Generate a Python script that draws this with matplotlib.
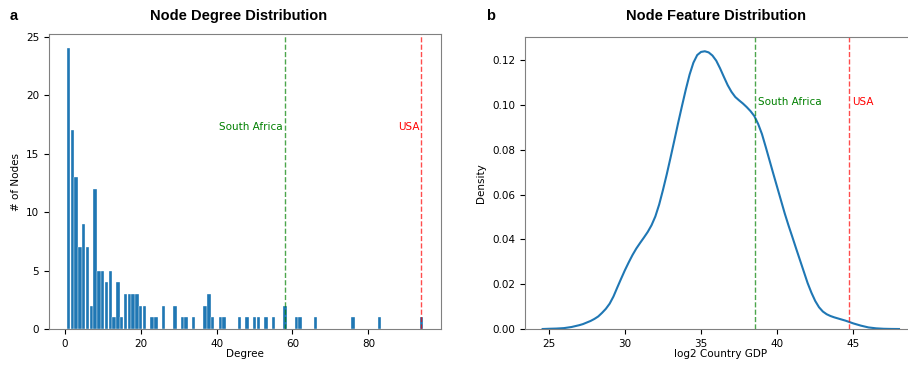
import numpy as np
import matplotlib
matplotlib.use("Agg")
import matplotlib.pyplot as plt

# degree histogram: degree value -> number of nodes
degrees = [1, 2, 3, 4, 5, 6, 7, 8, 9, 10, 11, 12, 13, 14, 15, 16, 17, 18, 19, 20,
           21, 23, 24, 26, 29, 31, 32, 34, 37, 38, 39, 41, 42, 46, 48, 50, 51, 53,
           55, 58, 61, 62, 66, 76, 83, 94]
node_counts = [24, 17, 13, 7, 9, 7, 2, 12, 5, 5, 4, 5, 1, 4, 1, 3, 3, 3, 3, 2,
               2, 1, 1, 2, 2, 1, 1, 1, 2, 3, 1, 1, 1, 1, 1, 1, 1, 1,
               1, 2, 1, 1, 1, 1, 1, 1]

# kde of log2 GDP (seaborn style curve)
gdp_x = [24.6, 25.0, 25.5, 26.0, 26.5, 27.0, 27.25, 27.5, 27.75,
         28.0, 28.25, 28.5, 28.75, 29.0, 29.25, 29.5, 29.75,
         30.0, 30.25, 30.5, 30.75, 31.0, 31.25, 31.5, 31.75,
         32.0, 32.25, 32.5, 32.75, 33.0, 33.25, 33.5, 33.75,
         34.0, 34.25, 34.5, 34.75, 35.0, 35.25, 35.5, 35.75,
         36.0, 36.25, 36.5, 36.75, 37.0, 37.25, 37.5, 37.75,
         38.0, 38.25, 38.5, 38.75, 39.0, 39.25, 39.5, 39.75,
         40.0, 40.25, 40.5, 40.75, 41.0, 41.25, 41.5, 41.75,
         42.0, 42.25, 42.5, 42.75, 43.0, 43.25, 43.5, 43.75,
         44.0, 44.25, 44.5, 44.75, 45.0, 45.25, 45.5, 45.75,
         46.0, 46.5, 47.0, 47.5, 48.0]
gdp_density = [0.0000, 0.0001, 0.0002, 0.0004, 0.0009, 0.0017, 0.0022, 0.0029, 0.0036,
               0.0045, 0.0056, 0.0072, 0.0090, 0.0113, 0.0145, 0.0185, 0.0224,
               0.0262, 0.0297, 0.0330, 0.0359, 0.0384, 0.0408, 0.0433, 0.0463,
               0.0502, 0.0555, 0.0620, 0.0690, 0.0765, 0.0842, 0.0920, 0.0995,
               0.1068, 0.1135, 0.1188, 0.1222, 0.1236, 0.1239, 0.1234, 0.1220,
               0.1197, 0.1163, 0.1125, 0.1088, 0.1058, 0.1035, 0.1020, 0.1006,
               0.0990, 0.0972, 0.0950, 0.0915, 0.0870, 0.0812, 0.0752, 0.0692,
               0.0633, 0.0574, 0.0515, 0.0461, 0.0410, 0.0358, 0.0307, 0.0256,
               0.0205, 0.0162, 0.0125, 0.0097, 0.0078, 0.0066, 0.0058, 0.0052,
               0.0047, 0.0042, 0.0037, 0.0031, 0.0025, 0.0020, 0.0015, 0.0011,
               0.0007, 0.0003, 0.0001, 0.00003, 0.0000]

deg_marks = {"South Africa": 58, "USA": 94}
gdp_marks = {"South Africa": 38.52, "USA": 44.75}
mark_colors = {"South Africa": "green", "USA": "red"}

plt.rcParams["font.size"] = 7.5
plt.rcParams["axes.edgecolor"] = "#808080"

fig = plt.figure(figsize=(9.08, 3.65), dpi=100)
ax1 = fig.add_axes([0.054, 0.0986, 0.4317, 0.8075])
ax2 = fig.add_axes([0.578, 0.0986, 0.4317, 0.7990])

# a) node degree distribution
ax1.bar(degrees, node_counts, width=0.9, color="#1f77b4", edgecolor="white", linewidth=0.25)
for name, d in deg_marks.items():
    ax1.axvline(d, color=mark_colors[name], linestyle="--", linewidth=1, alpha=0.7)
    ax1.text(d - 0.5, 17, name, color=mark_colors[name], ha="right", va="baseline")
ax1.set_xlabel("Degree", labelpad=0)
ax1.set_ylabel("# of Nodes")

# b) node feature distribution
ax2.plot(gdp_x, gdp_density, color="#1f77b4", linewidth=1.5, solid_joinstyle="round")
ax2.set_ylim(bottom=0)
for name, v in gdp_marks.items():
    ax2.axvline(v, color=mark_colors[name], linestyle="--", linewidth=1, alpha=0.7)
    ax2.text(v + 0.2, 0.1, name, color=mark_colors[name], ha="left", va="baseline")
ax2.set_xlabel("log2 Country GDP", labelpad=0)
ax2.set_ylabel("Density")
ax2.set_xticks([25, 30, 35, 40, 45])

title_font = dict(family="Liberation Sans", weight="bold", fontsize=10.5, va="center")
fig.text(239 / 908, 1 - 16 / 365, "Node Degree Distribution", ha="center", **title_font)
fig.text(716 / 908, 1 - 16 / 365, "Node Feature Distribution", ha="center", **title_font)
fig.text(14 / 908, 1 - 16 / 365, "a", ha="center", **title_font)
fig.text(491 / 908, 1 - 16 / 365, "b", ha="center", **title_font)

fig.savefig("out.png", dpi=100)
